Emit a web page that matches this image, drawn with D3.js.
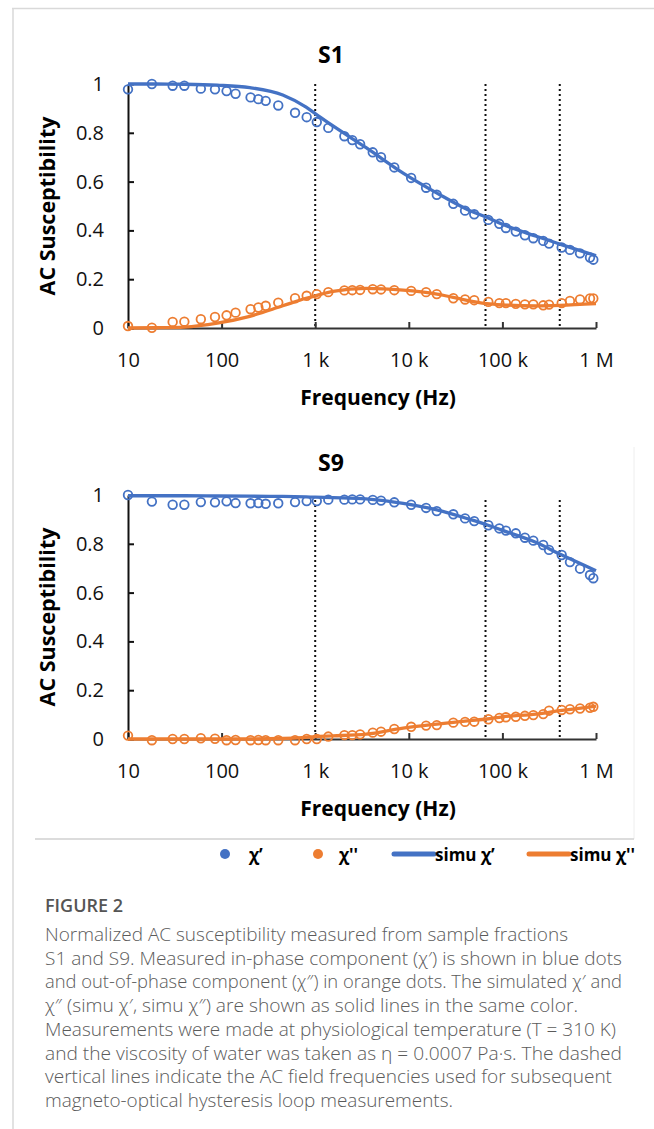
<!DOCTYPE html>
<html>
<head>
<meta charset="utf-8">
<script src="https://cdn.jsdelivr.net/npm/d3@7"></script>
<style>
  body { margin: 0; background: #fff; }
  svg { display: block; }
</style>
</head>
<body>
<svg id="fig" width="654" height="1129"></svg>
<script>
// measured frequencies (Hz), same for both samples
var freq = [10, 18, 30, 40, 60, 85, 113, 141, 204, 247, 296, 403, 609, 811, 1040, 1380, 2050, 2490, 3020, 4120,
            5050, 7000, 10600, 15300, 19900, 29900, 39900, 50000, 70800, 92700, 109000, 139000, 174000, 214000,
            273000, 315000, 430000, 527000, 675000, 863000, 936000];

// S1 measured chi' and chi''
var s1Real = [0.978, 1.0, 0.993, 0.993, 0.981, 0.978, 0.971, 0.960, 0.945, 0.938, 0.931, 0.912, 0.882, 0.864, 0.844, 0.820, 0.786, 0.770, 0.753, 0.720,
              0.700, 0.658, 0.615, 0.575, 0.546, 0.509, 0.481, 0.466, 0.443, 0.427, 0.410, 0.395, 0.380, 0.368,
              0.357, 0.346, 0.330, 0.320, 0.306, 0.289, 0.280];
var s1Imag = [0.008, 0.001, 0.025, 0.026, 0.036, 0.045, 0.052, 0.063, 0.077, 0.084, 0.091, 0.104, 0.122, 0.132, 0.139, 0.147, 0.154, 0.155, 0.156, 0.159,
              0.158, 0.155, 0.152, 0.147, 0.139, 0.122, 0.117, 0.114, 0.107, 0.102, 0.102, 0.099, 0.097, 0.097,
              0.093, 0.096, 0.102, 0.111, 0.117, 0.121, 0.121];

// S9 measured chi' and chi''
var s9Real = [1.0, 0.973, 0.960, 0.960, 0.971, 0.970, 0.974, 0.967, 0.966, 0.967, 0.964, 0.966, 0.971, 0.975, 0.975, 0.981, 0.981, 0.982, 0.982, 0.980,
              0.977, 0.970, 0.960, 0.947, 0.934, 0.921, 0.904, 0.893, 0.876, 0.863, 0.854, 0.843, 0.825, 0.813,
              0.795, 0.775, 0.754, 0.725, 0.698, 0.672, 0.659];
var s9Imag = [0.014, -0.005, 0.0, 0.0, 0.003, 0.001, -0.005, -0.004, -0.005, -0.004, -0.005, -0.005, -0.005, 0.0, 0.0, 0.010, 0.016, 0.016, 0.019, 0.026,
              0.030, 0.041, 0.050, 0.055, 0.057, 0.067, 0.070, 0.071, 0.081, 0.086, 0.089, 0.091, 0.095, 0.098,
              0.102, 0.116, 0.119, 0.122, 0.125, 0.128, 0.132];

// simulated curves
var simFreq = [10, 20, 40, 90, 200, 450, 800, 1000, 1550, 3500, 8700, 20000, 45000, 68000, 100000, 230000, 410000, 1000000];
var s1SimReal = [1.0, 1.0, 0.999, 0.995, 0.985, 0.955, 0.905, 0.879, 0.828, 0.739, 0.635, 0.553, 0.481, 0.454, 0.425, 0.376, 0.344, 0.296];
var s1SimImag = [0.0, 0.001, 0.004, 0.020, 0.048, 0.091, 0.122, 0.132, 0.150, 0.162, 0.155, 0.139, 0.111, 0.100, 0.095, 0.091, 0.093, 0.100];
var s9SimReal = [0.997, 0.997, 0.997, 0.996, 0.995, 0.994, 0.992, 0.991, 0.989, 0.984, 0.966, 0.939, 0.900, 0.878, 0.855, 0.805, 0.758, 0.690];
var s9SimImag = [0.0, 0.0, 0.0, 0.0, 0.0, 0.002, 0.007, 0.010, 0.013, 0.020, 0.045, 0.061, 0.075, 0.082, 0.091, 0.102, 0.116, 0.135];

// AC field frequencies (dotted lines)
var markerFreq = [1000, 66000, 410000];

var xTicks = [10, 100, 1000, 10000, 100000, 1000000];
var xTickLabels = ["10", "100", "1 k", "10 k", "100 k", "1 M"];
var yTicks = [0, 0.2, 0.4, 0.6, 0.8, 1];
var yTickLabels = ["0", "0.2", "0.4", "0.6", "0.8", "1"];

var blue = "#4472C4", orange = "#ED7D31";
var chartFont = "'Open Sans', sans-serif";

var svg = d3.select("#fig");

// light frame of the figure box
svg.append("line").attr("x1", 12).attr("x2", 654).attr("y1", 8.5).attr("y2", 8.5)
   .attr("stroke", "#d9d9d9").attr("stroke-width", 1.5);
svg.append("line").attr("x1", 13).attr("x2", 13).attr("y1", 8).attr("y2", 1129)
   .attr("stroke", "#d9d9d9").attr("stroke-width", 1.5);
svg.append("line").attr("x1", 634).attr("x2", 634).attr("y1", 447).attr("y2", 839)
   .attr("stroke", "#eeeeee").attr("stroke-width", 1);
svg.append("line").attr("x1", 35).attr("x2", 634).attr("y1", 839).attr("y2", 839)
   .attr("stroke", "#d0d0d0").attr("stroke-width", 1.5);

var x = d3.scaleLog().domain([10, 1e6]).range([128, 596]);

function drawPanel(opt) {
    var y = d3.scaleLinear().domain([0, 1]).range([opt.y0, opt.y1]);
    var g = svg.append("g");

    // title
    g.append("text").attr("x", 331).attr("y", opt.titleY).attr("text-anchor", "middle")
      .attr("font-family", chartFont).attr("font-weight", "bold").attr("font-size", 23)
      .text(opt.title);

    // dotted AC field lines
    g.selectAll(".mark").data(markerFreq).enter().append("line")
      .attr("x1", function(d) { return x(d); }).attr("x2", function(d) { return x(d); })
      .attr("y1", opt.dotTop).attr("y2", opt.y0)
      .attr("stroke", "#111").attr("stroke-width", 2).attr("stroke-dasharray", "2,3");

    // x axis
    var xAxis = d3.axisBottom(x).tickValues(xTicks)
        .tickFormat(function(d, i) { return xTickLabels[i]; })
        .tickSize(-6).tickSizeOuter(0).tickPadding(25);
    var gx = g.append("g").attr("transform", "translate(0," + opt.y0 + ")").call(xAxis);
    gx.select(".domain").attr("stroke", "#333").attr("stroke-width", 2);
    gx.selectAll(".tick line").attr("stroke", "#333").attr("stroke-width", 2);
    gx.selectAll(".tick text").attr("font-family", chartFont).attr("font-size", 20).attr("fill", "#111");

    // y axis
    var yAxis = d3.axisLeft(y).tickValues(yTicks)
        .tickFormat(function(d, i) { return yTickLabels[i]; })
        .tickSize(-6).tickSizeOuter(0).tickPadding(24);
    var gy = g.append("g").attr("transform", "translate(128,0)").call(yAxis);
    gy.select(".domain").attr("stroke", "#111").attr("stroke-width", 2);
    gy.selectAll(".tick line").attr("stroke", "#111").attr("stroke-width", 2);
    gy.selectAll(".tick text").attr("font-family", chartFont).attr("font-size", 20).attr("fill", "#111");

    // axis titles
    g.append("text").attr("x", 378).attr("y", opt.y0 + 77).attr("text-anchor", "middle")
      .attr("font-family", chartFont).attr("font-weight", "bold").attr("font-size", 21)
      .text("Frequency (Hz)");
    var midY = (opt.y0 + opt.y1) / 2;
    g.append("text").attr("transform", "translate(55," + midY + ") rotate(-90)")
      .attr("text-anchor", "middle")
      .attr("font-family", chartFont).attr("font-weight", "bold").attr("font-size", 21.5)
      .text("AC Susceptibility");

    // measured points
    [[opt.real, blue], [opt.imag, orange]].forEach(function(s) {
        g.append("g").selectAll("circle").data(s[0]).enter().append("circle")
          .attr("cx", function(d, i) { return x(freq[i]); })
          .attr("cy", function(d) { return y(d); })
          .attr("r", 4.3)
          .attr("fill", "none").attr("stroke", s[1]).attr("stroke-width", 1.8);
    });

    // simulated lines
    var line = d3.line()
        .x(function(d, i) { return x(simFreq[i]); })
        .y(function(d) { return y(d); })
        .curve(d3.curveMonotoneX);
    [[opt.simReal, blue], [opt.simImag, orange]].forEach(function(s) {
        g.append("path").datum(s[0]).attr("d", line)
          .attr("fill", "none").attr("stroke", s[1]).attr("stroke-width", 3.3);
    });
}

drawPanel({ title: "S1", titleY: 63, y0: 328, y1: 84, dotTop: 84,
            real: s1Real, imag: s1Imag, simReal: s1SimReal, simImag: s1SimImag });
drawPanel({ title: "S9", titleY: 471, y0: 739, y1: 495, dotTop: 500,
            real: s9Real, imag: s9Imag, simReal: s9SimReal, simImag: s9SimImag });

// legend
var lg = svg.append("g").attr("font-family", chartFont).attr("font-weight", "bold").attr("font-size", 17);
lg.append("circle").attr("cx", 225).attr("cy", 854).attr("r", 5).attr("fill", blue);
lg.append("text").attr("x", 249).attr("y", 861).text("χ’");
lg.append("circle").attr("cx", 318).attr("cy", 854).attr("r", 5).attr("fill", orange);
lg.append("text").attr("x", 339).attr("y", 861).text("χ''");
lg.append("line").attr("x1", 394).attr("x2", 434).attr("y1", 854).attr("y2", 854)
  .attr("stroke", blue).attr("stroke-width", 5).attr("stroke-linecap", "round");
lg.append("text").attr("x", 435).attr("y", 861).text("simu χ’");
lg.append("line").attr("x1", 529).attr("x2", 569).attr("y1", 854).attr("y2", 854)
  .attr("stroke", orange).attr("stroke-width", 5).attr("stroke-linecap", "round");
lg.append("text").attr("x", 570).attr("y", 861).text("simu χ''");

// caption
var captionLines = [
  "Normalized AC susceptibility measured from sample fractions",
  "S1 and S9. Measured in-phase component (χ′) is shown in blue dots",
  "and out-of-phase component (χ″) in orange dots. The simulated χ′ and",
  "χ″ (simu χ′, simu χ″) are shown as solid lines in the same color.",
  "Measurements were made at physiological temperature (T = 310 K)",
  "and the viscosity of water was taken as η = 0.0007 Pa·s. The dashed",
  "vertical lines indicate the AC field frequencies used for subsequent",
  "magneto-optical hysteresis loop measurements."
];
var captionEnds = [568, 622, 622, 578, 616, 622, 612, 453];
var cap = svg.append("g").attr("font-family", "'Open Sans', sans-serif").attr("fill", "#5b5b5b");
cap.append("text").attr("x", 45).attr("y", 912).attr("font-size", 18).attr("font-weight", 600)
   .attr("fill", "#555").text("FIGURE 2");
cap.selectAll(".cl").data(captionLines).enter().append("text")
   .attr("x", 45).attr("y", function(d, i) { return 941 + i * 23.7; })
   .attr("font-size", 17.5).attr("font-weight", 300)
   .attr("textLength", function(d, i) { return captionEnds[i] - 45; })
   .attr("lengthAdjust", "spacingAndGlyphs")
   .text(function(d) { return d; });
</script>
</body>
</html>
